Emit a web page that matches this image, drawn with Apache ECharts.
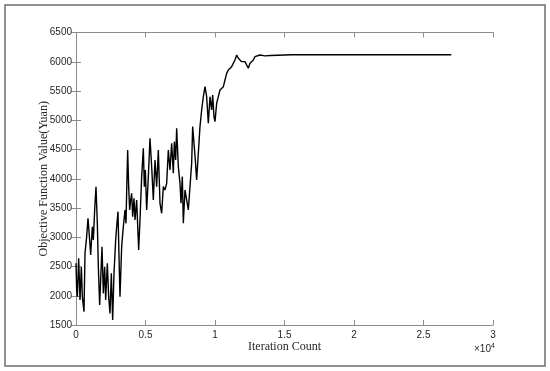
<!DOCTYPE html>
<html>
<head>
<meta charset="utf-8">
<script src="https://cdn.jsdelivr.net/npm/echarts@6/dist/echarts.min.js"></script>
<style>
  html, body { margin: 0; padding: 0; background: #fff; }
  #chart { width: 550px; height: 371px; }
</style>
</head>
<body>
<div id="chart"></div>
<script>
'use strict';

// iteration numbers and objective values
const iterations = [
  0, 48, 96, 192, 288, 384, 456, 575, 647, 767, 863, 983, 1055, 1175, 1247, 1343,
  1439, 1535, 1607, 1702, 1774, 1870, 1966, 2062, 2134, 2254, 2350, 2446, 2542, 2638,
  2734, 2854, 2926, 3021, 3117, 3165, 3285, 3405, 3525, 3597, 3645, 3717, 3789, 3861,
  3933, 4005, 4077, 4173, 4245, 4364, 4508, 4604, 4724, 4844, 4916, 4988, 5084, 5204,
  5324, 5444, 5563, 5683, 5803, 5923, 6043, 6163, 6283, 6403, 6523, 6643, 6762, 6882,
  7002, 7074, 7170, 7242, 7362, 7481, 7553, 7649, 7721, 7841, 7961, 8081, 8201, 8321,
  8393, 8489, 8584, 8680, 8800, 8920, 9040, 9160, 9280, 9400, 9520, 9640, 9760, 9832,
  9928, 10000, 10120, 10240, 10359, 10479, 10599, 10719, 10839, 10959, 11078, 11198,
  11318, 11438, 11558, 11678, 11798, 11918, 12038, 12157, 12277, 12397, 12517, 12637,
  12757, 12877, 12997, 13237, 13600, 14000, 14500, 15000, 15500, 27000
];
const objective = [
  2554, 2098, 1984, 2640, 1927, 2497, 1984, 1728, 2725, 3010, 3323, 2953, 2696, 3180, 2953, 3465,
  3864, 3237, 2497, 1842, 2269, 2839, 2041, 2497, 1927, 2554, 1984, 1699, 2383, 1585,
  2383, 2953, 3180, 3437, 2440, 1984, 2839, 3181, 3466, 3238, 3779, 4492, 3865, 3466,
  3637, 3751, 3352, 3665, 3295, 3637, 2782, 3295, 4036, 4520, 3865, 4150, 3466, 4036,
  4691, 4207, 3637, 4321, 3865, 4492, 3580, 3409, 3865, 3808, 3922, 4492, 4150, 4606,
  4093, 4634, 4321, 4862, 4207, 3922, 3580, 4036, 3238, 3808, 3637, 3466, 3865, 4264,
  4891, 4606, 4321, 3979, 4435, 4891, 5175, 5403, 5574, 5403, 4948, 5403, 5175, 5432,
  5062, 4976, 5290, 5403, 5517, 5489, 5574, 5688, 5802, 5859, 5831, 5916,
  5888, 6030, 6116, 6059, 6030, 6002, 5973, 6002, 5973, 5888, 5973, 6002,
  6030, 6087, 6099, 6116, 6100, 6108, 6112, 6116, 6120, 6120
];

const xTicks = ['0', '0.5', '1', '1.5', '2', '2.5', '3'];

const axisGray = '#8c8c8c';
const labelColor = '#262626';

let chart = echarts.init(document.getElementById('chart'), null, { renderer: 'canvas' });

let option = {
  animation: false,
  backgroundColor: '#fff',
  grid: { left: 76, top: 32.5, right: 57, bottom: 46, containLabel: false },
  xAxis: [
    {
      type: 'value', min: 0, max: 30000, interval: 5000,
      name: 'Iteration Count', nameLocation: 'middle', nameGap: 16, nameMoveOverlap: false,
      nameTextStyle: { fontFamily: 'Liberation Serif', fontSize: 12, color: labelColor },
      axisLine: { show: true, lineStyle: { color: axisGray, width: 1 } },
      axisTick: { show: true, inside: true, length: 5, lineStyle: { color: axisGray } },
      axisLabel: {
        margin: 5, fontFamily: 'Liberation Sans', fontSize: 10, color: labelColor,
        formatter: v => xTicks[Math.round(v / 5000)]
      },
      splitLine: { show: false }
    },
    {
      type: 'value', position: 'top', min: 0, max: 30000, interval: 5000,
      axisLine: { show: true, lineStyle: { color: axisGray, width: 1 } },
      axisTick: { show: true, inside: true, length: 5, lineStyle: { color: axisGray } },
      axisLabel: { show: false },
      splitLine: { show: false }
    }
  ],
  yAxis: [
    {
      type: 'value', min: 1500, max: 6500, interval: 500,
      name: 'Objective Function Value(Yuan)', nameLocation: 'middle', nameGap: 26, nameMoveOverlap: false,
      nameTextStyle: { fontFamily: 'Liberation Serif', fontSize: 12, color: labelColor },
      axisLine: { show: true, lineStyle: { color: axisGray, width: 1 } },
      axisTick: { show: true, inside: true, length: 5, lineStyle: { color: axisGray } },
      axisLabel: {
        margin: 4, fontFamily: 'Liberation Sans', fontSize: 10, color: labelColor,
        formatter: v => String(v)
      },
      splitLine: { show: false }
    },
    {
      type: 'value', position: 'right', min: 1500, max: 6500, interval: 500,
      axisLine: { show: true, lineStyle: { color: axisGray, width: 1 } },
      axisTick: { show: true, inside: true, length: 5, lineStyle: { color: axisGray } },
      axisLabel: { show: false },
      splitLine: { show: false }
    }
  ],
  graphic: [
    {
      type: 'rect', silent: true,
      shape: { x: 5, y: 5, width: 540, height: 361 },
      style: { fill: 'none', stroke: '#6e6e6e', lineWidth: 1.5 }
    },
    {
      type: 'text', left: 474, top: 343,
      style: {
        text: '{a|×10}{b|4}',
        rich: {
          a: { fontFamily: 'Liberation Sans', fontSize: 10, fill: labelColor },
          b: { fontFamily: 'Liberation Sans', fontSize: 7, fill: labelColor, verticalAlign: 'top', padding: [0, 0, 6, 0] }
        }
      }
    }
  ],
  series: [
    {
      type: 'line',
      xAxisIndex: 0,
      yAxisIndex: 0,
      showSymbol: false,
      symbol: 'none',
      lineStyle: { color: '#000', width: 1.4 },
      data: iterations.map((it, i) => [it, objective[i]])
    }
  ]
};

chart.setOption(option);
</script>
</body>
</html>
